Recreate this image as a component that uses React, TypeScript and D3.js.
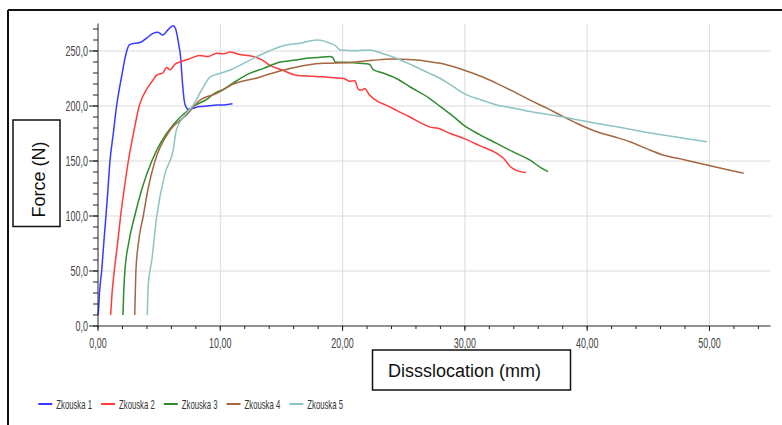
import React from "react";
import * as d3 from "d3";

const seriesNames = ["Zkouska 1", "Zkouska 2", "Zkouska 3", "Zkouska 4", "Zkouska 5"];
const seriesColors = ["#3a3aff", "#ff3b3b", "#2e8b2e", "#a5673f", "#8ec3c3"];

const zkouska1: [number, number][] = [
  [0.02, 10], [0.12, 30], [0.3, 50], [0.47, 75], [0.65, 100], [0.82, 125], [0.98, 150],
  [1.25, 175], [1.52, 200], [1.9, 225], [2.35, 250], [2.56, 255.5], [3.0, 257], [3.5, 258],
  [4.0, 262], [4.5, 266], [4.9, 267], [5.3, 264.5], [5.7, 269], [6.15, 273], [6.35, 270],
  [6.6, 256], [6.75, 245], [6.9, 222], [7.05, 205], [7.2, 199], [7.4, 197], [7.8, 198],
  [8.3, 199.5], [9.0, 200], [9.7, 201], [10.3, 201], [11.0, 202],
];
const zkouska2: [number, number][] = [
  [1.03, 10], [1.15, 30], [1.33, 50], [1.6, 75], [1.85, 100], [2.15, 125], [2.48, 150],
  [2.9, 175], [3.37, 200], [3.97, 215], [4.4, 222], [4.8, 228], [5.3, 230], [5.6, 235],
  [5.9, 233], [6.3, 238], [6.7, 240], [7.5, 243], [8.3, 246], [9.0, 245], [9.7, 248],
  [10.3, 247.5], [10.8, 249], [11.5, 247], [12.7, 245], [13.4, 242], [14.06, 237],
  [15.0, 233], [16.2, 228], [17.5, 227], [19.0, 226], [20.1, 225], [20.6, 222.5],
  [21.0, 223], [21.3, 215], [21.6, 214.5], [21.8, 216], [22.2, 210], [22.9, 204],
  [23.3, 202], [23.9, 199], [24.4, 196], [25.5, 190], [26.5, 184], [27.1, 181],
  [27.8, 179.7], [28.8, 175], [29.9, 170.6], [31.2, 164], [32.6, 157], [33.2, 152],
  [33.7, 145], [34.3, 141], [35.0, 139.5],
];
const zkouska3: [number, number][] = [
  [2.04, 10], [2.1, 30], [2.2, 50], [2.5, 75], [3.0, 100], [3.6, 125], [4.4, 150],
  [5.2, 168], [6.15, 183], [7.25, 195], [8.0, 201], [8.9, 206], [9.6, 212], [10.25, 215],
  [11.06, 221], [12.4, 229.7], [13.5, 234], [14.9, 240], [16.0, 241.5], [17.06, 243.4],
  [18.0, 244], [18.97, 245], [19.2, 244], [19.4, 240], [20.5, 239.5], [21.4, 238.8],
  [22.2, 238], [22.5, 233], [23.3, 230], [24.4, 225], [25.5, 217.5], [27.1, 207],
  [28.0, 199.4], [29.0, 191], [29.9, 182.7], [31.2, 174], [32.6, 166], [34.0, 158],
  [35.3, 151], [36.2, 144], [36.8, 140.3],
];
const zkouska4: [number, number][] = [
  [3.0, 10], [3.05, 30], [3.1, 50], [3.3, 75], [3.7, 100], [4.1, 125], [4.66, 150],
  [5.9, 178], [7.25, 192], [8.3, 205], [9.7, 211.5], [11.06, 220], [13.0, 225.5],
  [14.3, 230], [15.7, 234], [17.0, 237], [18.4, 238.8], [19.5, 239], [21.1, 240],
  [22.5, 241.5], [23.9, 242.7], [25.8, 242], [27.0, 240.5], [28.0, 238.8], [29.9, 232.7],
  [31.3, 227], [32.6, 220.6], [34.0, 213], [35.3, 205.5], [36.7, 198], [38.05, 190.3],
  [39.4, 183], [40.8, 176.6], [42.2, 172], [43.5, 167.5], [44.9, 161], [46.2, 155.5],
  [48.0, 151], [49.8, 146.4], [51.3, 142.5], [52.8, 138.8],
];
const zkouska5: [number, number][] = [
  [4.03, 10], [4.1, 35.7], [4.4, 60], [4.8, 99.4], [5.48, 138.8], [6.15, 160],
  [6.4, 178], [7.0, 190], [7.8, 201], [8.5, 215], [9.2, 226.7], [10.0, 229.7],
  [10.8, 232.7], [11.6, 237], [13.0, 245], [14.0, 250], [15.2, 255], [16.5, 257],
  [17.9, 260], [18.5, 259], [18.97, 257], [19.4, 255], [19.8, 251], [21.1, 250.3],
  [22.2, 251], [23.2, 248], [24.4, 243.4], [25.7, 237], [27.1, 229.7], [28.0, 225],
  [29.0, 218], [29.9, 211.5], [31.2, 206], [32.6, 201], [34.0, 198], [35.3, 195],
  [36.7, 192.5], [38.05, 190], [39.4, 187], [40.8, 184], [42.2, 181.5], [43.5, 178.8],
  [44.9, 176], [46.2, 173.6], [48.0, 170.5], [49.8, 167.5],
];
const allSeries = [zkouska1, zkouska2, zkouska3, zkouska4, zkouska5];

const yMajorTicks = [0, 50, 100, 150, 200, 250];
const yMinorTicks = d3.range(0, 271, 10);
const xMajorTicks = [0, 10, 20, 30, 40, 50];
const xMinorTicks = d3.range(0, 55, 2);

const yAxisTitle = "Force (N)";
const xAxisTitle = "Dissslocation (mm)";

const W = 782;
const H = 425;
const X0 = 98;
const X1 = 770.6;
const Y0 = 326;

export default function App() {
  const x = d3.scaleLinear().domain([0, 55]).range([X0, X1]);
  const y = d3.scaleLinear().domain([0, 275]).range([Y0, Y0 - 275 * 1.1]);
  const line = d3
    .line<[number, number]>()
    .x((d) => x(d[0]))
    .y((d) => y(d[1]))
    .curve(d3.curveMonotoneX);

  const tickFont = "'Liberation Sans', Arial, sans-serif";
  const fmtY = (v: number) => v.toFixed(1).replace(".", ",");
  const fmtX = (v: number) => v.toFixed(2).replace(".", ",");

  return (
    <svg
      width={W}
      height={H}
      style={{ position: "absolute", left: 0, top: 0, background: "#fff" }}
    >
      {/* frame */}
      <line x1={8} x2={W} y1={10} y2={10} stroke="#111" strokeWidth={2} />
      <line x1={8} x2={8} y1={10} y2={H} stroke="#111" strokeWidth={2} />

      {/* grid */}
      {yMajorTicks.filter((t) => t > 0).map((t) => (
        <line key={"gy" + t} x1={X0} x2={X1} y1={y(t)} y2={y(t)} stroke="#dcdcdc" strokeWidth={1} />
      ))}
      {xMajorTicks.filter((t) => t > 0).map((t) => (
        <line key={"gx" + t} x1={x(t)} x2={x(t)} y1={y(275)} y2={Y0} stroke="#dcdcdc" strokeWidth={1} />
      ))}

      {/* series */}
      {allSeries.map((s, i) => (
        <path
          key={"s" + i}
          d={line(s) || ""}
          fill="none"
          stroke={seriesColors[i]}
          strokeWidth={1.5}
          strokeLinejoin="round"
        />
      ))}

      {/* y axis */}
      <line x1={X0} x2={X0} y1={y(275)} y2={Y0} stroke="#222" strokeWidth={1} />
      {yMinorTicks.map((t) => (
        <line key={"ymn" + t} x1={X0 - 5} x2={X0} y1={y(t)} y2={y(t)} stroke="#222" strokeWidth={1} />
      ))}
      {yMajorTicks.map((t) => (
        <g key={"ymj" + t}>
          <line x1={X0 - 9} x2={X0} y1={y(t)} y2={y(t)} stroke="#222" strokeWidth={1} />
          <g transform={`translate(${X0 - 10},${y(t) + 5}) scale(0.64,1)`}>
            <text textAnchor="end" fontFamily={tickFont} fontSize={14} fill="#444">
              {fmtY(t)}
            </text>
          </g>
        </g>
      ))}

      {/* x axis */}
      <line x1={X0} x2={X1} y1={Y0} y2={Y0} stroke="#222" strokeWidth={1} />
      {xMinorTicks.map((t) => (
        <line key={"xmn" + t} x1={x(t)} x2={x(t)} y1={Y0} y2={Y0 + 3} stroke="#222" strokeWidth={1} />
      ))}
      {xMajorTicks.map((t) => (
        <g key={"xmj" + t}>
          <line x1={x(t)} x2={x(t)} y1={Y0} y2={Y0 + 5} stroke="#222" strokeWidth={1} />
          <g transform={`translate(${x(t)},${Y0 + 22}) scale(0.64,1)`}>
            <text textAnchor="middle" fontFamily={tickFont} fontSize={14} fill="#444">
              {fmtX(t)}
            </text>
          </g>
        </g>
      ))}

      {/* y axis title box */}
      <rect x={13} y={120} width={47} height={106.5} fill="#fff" stroke="#111" strokeWidth={1.5} />
      <text
        transform={`translate(45,179.5) rotate(-90)`}
        textAnchor="middle"
        fontFamily="'Liberation Sans', Arial, sans-serif"
        fontSize={18}
        fill="#111"
      >
        {yAxisTitle}
      </text>

      {/* x axis title box */}
      <rect x={372.5} y={350} width={198} height={40} fill="#fff" stroke="#111" strokeWidth={1.5} />
      <text
        x={464.5}
        y={376.5}
        textAnchor="middle"
        fontFamily="'Liberation Sans', Arial, sans-serif"
        fontSize={18}
        fill="#111"
      >
        {xAxisTitle}
      </text>

      {/* legend */}
      {seriesNames.map((n, i) => {
        const lx = 38.3 + i * 62.75;
        return (
          <g key={"lg" + i}>
            <line x1={lx} x2={lx + 14} y1={404} y2={404} stroke={seriesColors[i]} strokeWidth={2} />
            <g transform={`translate(${lx + 18},${408.5}) scale(0.62,1)`}>
              <text fontFamily={tickFont} fontSize={12.5} fill="#333">
                {n}
              </text>
            </g>
          </g>
        );
      })}
    </svg>
  );
}
